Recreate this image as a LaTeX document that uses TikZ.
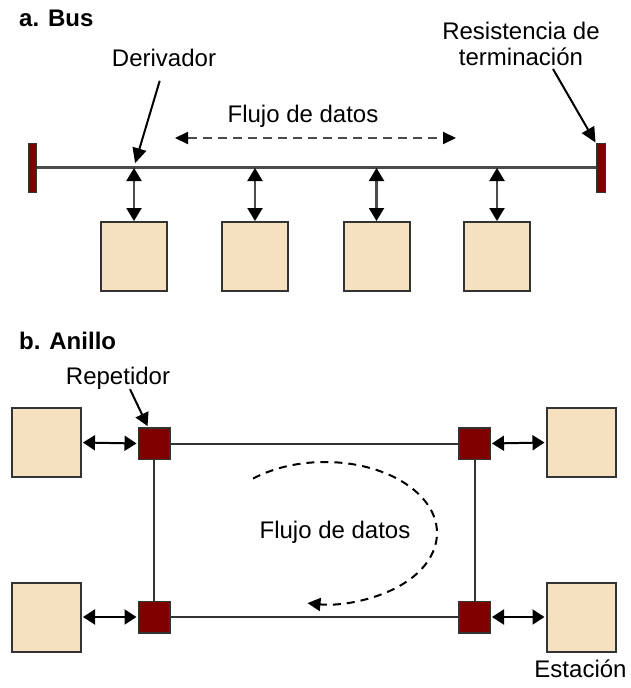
\documentclass[tikz,border=0pt]{standalone}
\usepackage{fontspec}
\setmainfont{Liberation Sans}
\usetikzlibrary{arrows.meta}
\definecolor{tanfill}{RGB}{245,224,192}
\definecolor{dred}{RGB}{128,0,0}
\definecolor{edgegray}{RGB}{51,51,51}
\definecolor{busgray}{RGB}{75,75,75}
\begin{document}
\begin{tikzpicture}[x=1pt,y=-1pt,
  station/.style={draw=edgegray, line width=2pt, fill=tanfill, minimum width=66pt, minimum height=69pt, inner sep=0pt},
  rstation/.style={draw=edgegray, line width=2pt, fill=tanfill, minimum width=69pt, minimum height=69pt, inner sep=0pt},
  term/.style={draw=edgegray, line width=1pt, fill=dred, minimum width=8pt, minimum height=49pt, inner sep=0pt},
  repeater/.style={draw=edgegray, line width=1.5pt, fill=dred, minimum size=31.5pt, inner sep=0pt},
  lbl/.style={font=\fontsize{24}{26}\selectfont, inner sep=0pt},
  ttl/.style={font=\fontsize{24}{26}\selectfont\bfseries, inner sep=0pt, anchor=base west},
  wire/.style={draw=busgray, line width=2.2pt},
  ringwire/.style={draw=edgegray, line width=2pt},
  dbl/.style={draw=busgray, line width=2.2pt, {Triangle[length=13pt,width=15pt,color=black]}-{Triangle[length=13pt,width=15pt,color=black]}},
  rdbl/.style={draw=black, line width=2pt, {Triangle[length=12pt,width=15pt]}-{Triangle[length=12pt,width=15pt]}},
  ptr/.style={draw=black, line width=2pt, -{Triangle[length=15pt,width=14pt]}},
  flowbus/.style={draw=busgray, line width=2pt, dash pattern=on 9pt off 6pt, {Triangle[length=13pt,width=12pt,color=black]}-{Triangle[length=13pt,width=12pt,color=black]}},
  flowring/.style={draw=black, line width=2pt, dash pattern=on 8pt off 6pt, -{Triangle[length=13pt,width=13pt]}}
]
\useasboundingbox (0,0) rectangle (631,688);

% ---------- a. Bus ----------
\node[ttl] (titleA) at (19,27) {a. Bus};

\node[term] (termL) at (32.5,167.5) {};
\node[term, minimum width=9pt] (termR) at (600.5,167.5) {};
\draw[wire] (termL.east) -- (termR.west);

\coordinate (t1) at (134,167);
\coordinate (t2) at (255,167);
\coordinate (t3) at (376.5,167);
\coordinate (t4) at (497,167);

\node[station] (s1) at (134,256.5) {};
\node[station] (s2) at (255,256.5) {};
\node[station] (s3) at (376.5,256.5) {};
\node[station] (s4) at (497,256.5) {};

\draw[dbl, shorten <=1pt] (t1) -- (s1.north);
\draw[dbl, shorten <=1pt] (t2) -- (s2.north);
\draw[dbl, shorten <=1pt] (t3) -- (s3.north);
\draw[dbl, shorten <=1pt] (t4) -- (s4.north);

\node[lbl, anchor=base] (deriv) at (164,66) {Derivador};
\draw[ptr, shorten <=15pt, shorten >=4pt] (deriv.south) -- (t1);

\node[lbl, align=center] (resist) at (521,43.5) {Resistencia de\\terminación};
\draw[ptr, shorten <=4pt] ([xshift=30pt]resist.south) -- (termR.north west);

\node[lbl, anchor=base] (flowA) at (303,122) {Flujo de datos};
\coordinate (fa) at (175,138);
\coordinate (fb) at (456,138);
\draw[flowbus] (fa) -- (fb);

% ---------- b. Anillo ----------
\node[ttl] (titleB) at (19,349) {b. Anillo};

\node[repeater] (rTL) at (154,443.5) {};
\node[repeater] (rBL) at (154,617) {};
\node[repeater] (rTR) at (474.5,443.5) {};
\node[repeater] (rBR) at (474.5,617) {};

\draw[ringwire] (rTL) -- (rTR);
\draw[ringwire] (rBL) -- (rBR);
\draw[ringwire] (rTL) -- (rBL);
\draw[ringwire] (rTR) -- (rBR);

\node[rstation] (rsTL) at (46.5,442.5) {};
\node[rstation] (rsBL) at (46.5,617) {};
\node[rstation] (rsTR) at (581,442.5) {};
\node[rstation] (rsBR) at (581,617) {};

\draw[rdbl, shorten <=1pt, shorten >=1pt] (rsTL.east) -- (rTL.west);
\draw[rdbl, shorten <=1pt, shorten >=1pt] (rsBL.east) -- (rBL.west);
\draw[rdbl, shorten <=1pt, shorten >=1pt] (rTR.east) -- (rsTR.west);
\draw[rdbl, shorten <=1pt, shorten >=1pt] (rBR.east) -- (rsBR.west);

\node[lbl, anchor=base] (repet) at (118,384) {Repetidor};
\draw[ptr, -{Triangle[length=13pt,width=14pt]}, shorten >=1pt] ([xshift=12pt]repet.south) -- ([xshift=-6pt]rTL.north);

\node[lbl, anchor=base] (flowB) at (335,538) {Flujo de datos};
\coordinate (ec) at (325,533);
\draw[flowring] ([shift={(130:112pt and 71pt)}]ec) arc[start angle=130, end angle=-99, x radius=112pt, y radius=71pt];

\node[lbl, anchor=base] (estac) at (580.5,677) {Estación};
\end{tikzpicture}
\end{document}
